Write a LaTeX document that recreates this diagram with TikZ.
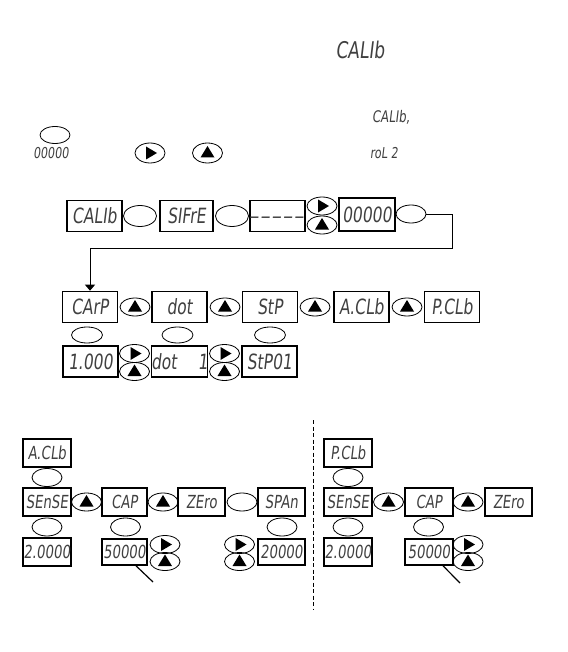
\documentclass[tikz,border=0pt]{standalone}
\usepackage{fontspec}
\usepackage{tikz}
\usetikzlibrary{arrows.meta, shapes.geometric, calc}
\newfontfamily\lcdfont[FakeStretch=0.74,FakeSlant=0.12]{DejaVu Sans}
\tikzset{
  >=latex,  % default arrows
  % LCD display boxes
  lcd/.style={draw,line width=1.6,rectangle,minimum width=55,minimum height=31,inner sep=0,text=black!75,font=\lcdfont\fontsize{21}{21}\selectfont},
  lcd small/.style={lcd,minimum width=48,minimum height=28,font=\lcdfont\fontsize{18}{18}\selectfont},
  lcd text/.style={inner sep=0,text=black!75},
  % Keys
  btn/.style={ellipse,draw,line width=0.8,minimum width=30,minimum height=18,inner sep=0},
  btn right/.style={btn,path picture={\fill ([xshift=-4pt,yshift=-6.5pt]path picture bounding box.center) -- ++(0pt,13pt) -- ++(11pt,-6.5pt) -- cycle;}},
  btn up/.style={btn,path picture={\fill ([xshift=-7pt,yshift=-4.5pt]path picture bounding box.center) -- ++(14pt,0pt) -- ++(-7pt,11.5pt) -- cycle;}},
  % Connections
  flow/.style={line width=0.8,-{Triangle[width=10pt,length=6pt]}},
  pointer/.style={line width=1.2}
}

\begin{document}
\begin{tikzpicture}[x=1pt,y=-1pt]
\useasboundingbox (0,0) rectangle (567,652);

% Header
\node[lcd text,font=\lcdfont\fontsize{23}{23}\selectfont] (title) at (360,50) {CALIb};
\node[btn,minimum height=17] (hintkey) at (55,135) {};
\node[lcd text,font=\lcdfont\fontsize{15}{15}\selectfont] (hintpass) at (51,153) {00000};
\node[btn right,minimum height=20] (hintright) at (150,153) {};
\node[btn up,minimum height=20] (hintup) at (207.5,153) {};
\node[lcd text,font=\lcdfont\fontsize{16}{16}\selectfont] (hintcalib) at (391,117) {CALIb,};
\node[lcd text,font=\lcdfont\fontsize{15}{15}\selectfont] (hintrol) at (384,153) {roL 2};

% Password entry
\node[lcd] (calib) at (94.5,216) {CALIb};
\node[btn,minimum width=33,minimum height=21] (k1) at (140,216) {};
\node[lcd,minimum width=53] (sifre) at (186.5,216) {SIFrE};
\node[btn,minimum width=33,minimum height=21] (k2) at (232,216) {};
\node[lcd] (dash) at (277.5,216) {\_\,\_\,\_\,\_\,\_};
\node[btn right] (r1) at (322,206) {};
\node[btn up] (u1) at (322,225) {};
\node[lcd,minimum width=56,minimum height=33] (pass) at (367,214.5) {00000};
\node[btn] (k3) at (411,214) {};
\coordinate (turn) at (452,248);

% Calibration menu
\node[lcd] (carp) at (90,307) {CArP};
\node[lcd] (dot) at (179.5,307) {dot};
\node[lcd] (stp) at (270,307) {StP};
\node[lcd] (aclb) at (361.5,307) {A.CLb};
\node[lcd] (pclb) at (452,307) {P.CLb};
\foreach \x in {135,225,315,407}
  \node[btn up] at (\x,307) {};
\foreach \x in {87,177.5,270}
  \node[btn,minimum width=31,minimum height=16] at (\x,335) {};
\node[lcd] (one) at (90.5,361.5) {1.000};
\node[lcd] (dotone) at (179.5,361.5) {dot\enspace\enspace1};
\node[lcd] (stpone) at (269.5,361.5) {StP01};
\foreach \x in {134.5,224.5} {
  \node[btn right] at (\x,353.5) {};
  \node[btn up] at (\x,371.5) {};
}
\draw[flow] (k3.east) -| (turn) -| (carp.north);

% Separator
\draw[line width=1.3,dash pattern=on 4pt off 2.5pt] (313.5,420) -- (313.5,610);

% A.CLb submenu
\node[lcd small] (aclbb) at (47,453) {A.CLb};
\node[btn] at (47,477.5) {};
\node[lcd small] (asense) at (47,502) {SEnSE};
\node[btn up] at (86.5,502) {};
\node[lcd small,minimum width=45] (acap) at (124.5,502) {CAP};
\node[btn up] at (163,502) {};
\node[lcd small,minimum width=47] (azero) at (201.5,502) {ZEro};
\node[btn] at (242,502) {};
\node[lcd small,minimum width=47] (aspan) at (281.5,502) {SPAn};
\foreach \x in {47,125.5,282}
  \node[btn] at (\x,527) {};
\node[lcd small] (aval) at (47,552) {2.0000};
\node[lcd small,minimum width=45,minimum height=26] (acapval) at (124.5,552) {50000};
\node[lcd small,minimum width=47,minimum height=26] (aspanval) at (281.5,552) {20000};
\foreach \x in {165,239.5} {
  \node[btn right] at (\x,544.5) {};
  \node[btn up] at (\x,561.5) {};
}
\coordinate (atip) at (153,582);
\draw[pointer] ([xshift=11.5pt]acapval.south) -- (atip);

% P.CLb submenu
\node[lcd small] (pclbb) at (348,453) {P.CLb};
\node[btn] at (348,477.5) {};
\node[lcd small] (psense) at (348,502) {SEnSE};
\node[btn up] at (388.5,502) {};
\node[lcd small] (pcap) at (429,502) {CAP};
\node[btn up] at (468,502) {};
\node[lcd small,minimum width=47] (pzero) at (508.5,502) {ZEro};
\foreach \x in {348,428.5}
  \node[btn] at (\x,527) {};
\node[lcd small] (pval) at (348,552) {2.0000};
\node[lcd small,minimum height=26] (pcapval) at (429,552) {50000};
\node[btn right] at (468,544.5) {};
\node[btn up] at (468,561.5) {};
\coordinate (ptip) at (460,583);
\draw[pointer] ([xshift=14pt]pcapval.south) -- (ptip);

\end{tikzpicture}
\end{document}
